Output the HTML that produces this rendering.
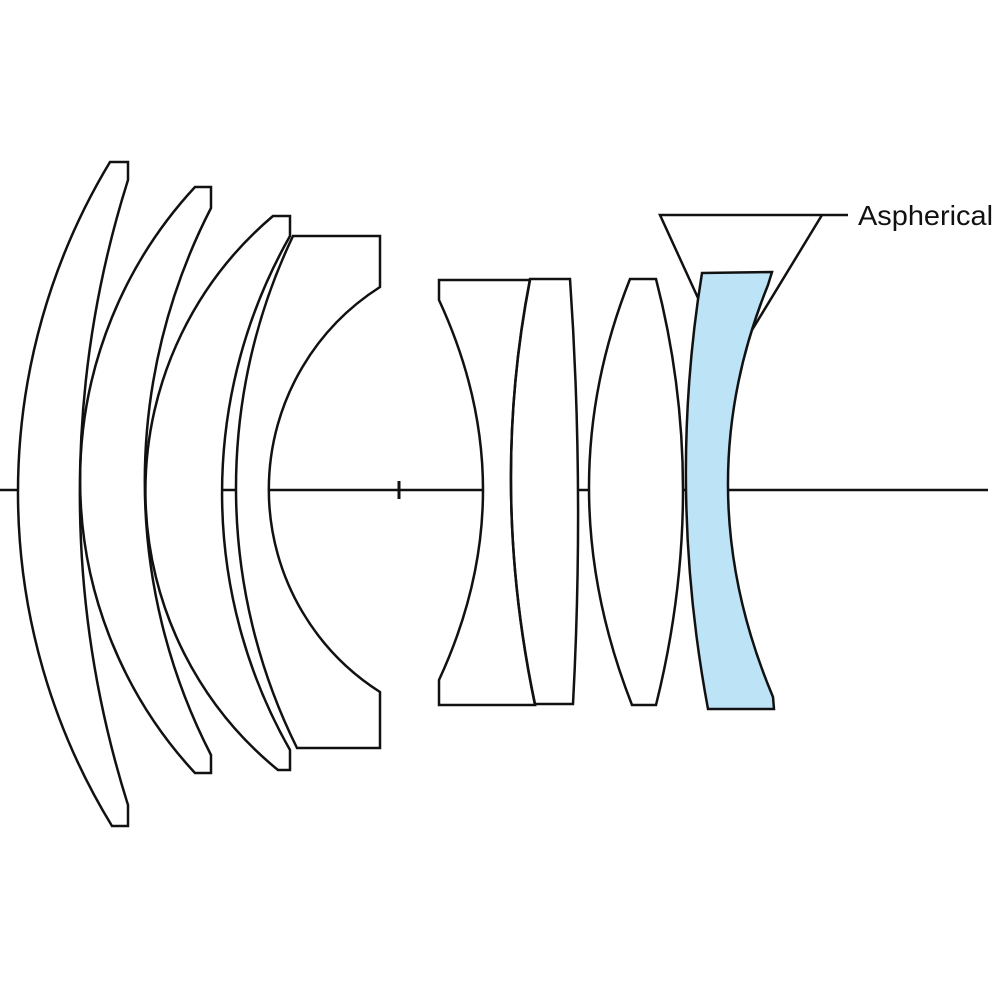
<!DOCTYPE html>
<html><head><style>html,body{margin:0;padding:0;background:#fff;}svg{display:block}</style></head>
<body>
<svg width="1000" height="1000" viewBox="0 0 1000 1000" xmlns="http://www.w3.org/2000/svg">
<rect width="1000" height="1000" fill="#fff"/>
<line x1="0" y1="490" x2="988" y2="490" stroke="#111" stroke-width="2.5"/>
<line x1="399" y1="481" x2="399" y2="499" stroke="#111" stroke-width="3"/>
<g id="shapes">
<path d="M110,162 L128,162 L128,180 A1038,1038 0 0 0 128,805 L128,826 L112,826 A639,639 0 0 1 110,162Z"/>
<path d="M195,187 L211,187 L211,208 A598,598 0 0 0 211,755 L211,773 L195,773 A431,431 0 0 1 195,187Z"/>
<path d="M273,216 L290,216 L290,236 A520,520 0 0 0 290,750 L290,770 L278,770 A360,360 0 0 1 273,216Z"/>
<path d="M293,236 L380,236 L380,287 A240,240 0 0 0 380,692 L380,748 L297,748 A585,585 0 0 1 293,236Z"/>
<path d="M439,280 L530,280 Q489.5,487.5 535,705 L439,705 L439,680 Q527,490 439,300Z"/>
<path d="M530,279 L570,279 Q584.5,488.5 573,704 L535,704 Q489.5,487.5 530,279Z"/>
<path d="M630,279 L656,279 Q710,488 656,705 L632,705 Q547,488 630,279Z"/>
</g>
<use href="#shapes" fill="#fff" stroke="none"/>
<path d="M702,273 L772,272 L768,285 Q685.5,489 773,697 L774,709 L708,709 Q667,489 702,273Z" fill="#bde3f7" stroke="none"/>
<use href="#shapes" fill="none" stroke="#111" stroke-width="2.5"/>
<g fill="none" stroke="#111" stroke-width="2.5">
<path d="M702,273 L772,272 L768,285 Q685.5,489 773,697 L774,709 L708,709 Q667,489 702,273Z"/>
<polyline points="698,298 660,215 848,215"/>
<line x1="822" y1="215" x2="752" y2="330"/>
</g>
<text x="858" y="225" font-family="Liberation Sans, sans-serif" font-size="27.5" textLength="135" lengthAdjust="spacingAndGlyphs" fill="#111">Aspherical</text>
</svg>
</body></html>
